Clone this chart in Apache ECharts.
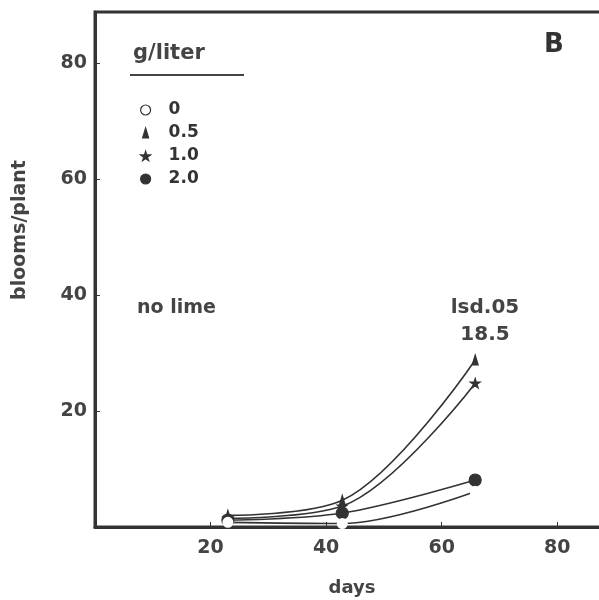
<!DOCTYPE html>
<html>
<head>
<meta charset="utf-8">
<script src="https://cdn.jsdelivr.net/npm/echarts@6/dist/echarts.min.js"></script>
<style>html,body{margin:0;padding:0;background:#fff;overflow:hidden}#c{width:599px;height:600px}</style>
</head>
<body>
<div id="c"></div>
<script>
var days = [23, 42.8, 65.8];
var seriesNames = ['0', '0.5', '1.0', '2.0'];
var bloomsLime0 = [0.8, 0.6, 6.1];
var bloomsLime05 = [2.0, 4.6, 28.8];
var bloomsLime10 = [1.5, 3.6, 24.8];
var bloomsLime20 = [1.2, 2.4, 8.1];
var xTicks = [20, 40, 60, 80];
var yTicks = [20, 40, 60, 80];

var ink = '#333';
var font = 'DejaVu Sans';
var starPath = 'path://M50,0 L61,35 L98,35 L68,57 L79,91 L50,70 L21,91 L32,57 L2,35 L39,35 Z';
var triPath = 'path://M3,0 L6,10 L0,10 Z';

function pts(ys) { return days.map(function (d, i) { return [d, ys[i]]; }); }

var symbols = [
  { symbol: 'emptyCircle', legend: 'circle', size: 9, color: '#fff', border: ink },
  { symbol: triPath, legend: triPath, size: 10, color: ink, border: ink },
  { symbol: starPath, legend: starPath, size: 10, color: ink, border: ink },
  { symbol: 'circle', legend: 'circle', size: 12, color: ink, border: ink }
];
var values = [bloomsLime0, bloomsLime05, bloomsLime10, bloomsLime20];

var series = seriesNames.map(function (n, i) {
  var s = symbols[i];
  return {
    name: n,
    type: 'line',
    smooth: 0.35,
    data: pts(values[i]),
    symbol: s.symbol,
    symbolSize: s.size,
    symbolKeepAspect: true,
    showAllSymbol: true,
    itemStyle: { color: s.color, borderColor: s.border, borderWidth: 1.2 },
    lineStyle: { color: ink, width: 1.6 },
    z: i === 0 ? 5 : 3
  };
});

var chart = echarts.init(document.getElementById('c'), null, { renderer: 'canvas' });
chart.setOption({
  backgroundColor: '#fff',
  animation: false,
  grid: { left: 95, top: 12, height: 515, width: 520, outerBoundsMode: 'none', containLabel: false, show: true, borderColor: ink, borderWidth: 3, backgroundColor: 'transparent' },
  xAxis: {
    type: 'value', min: 0, max: 90, interval: 20,
    axisLine: { show: true, lineStyle: { color: ink, width: 3 } },
    axisTick: { show: true, inside: true, length: 5, lineStyle: { color: ink, width: 1 } },
    splitLine: { show: false },
    axisLabel: {
      margin: 12, fontFamily: font, fontWeight: 'bold', fontSize: 19, color: '#444',
      showMaxLabel: false,
      formatter: function (v) { return xTicks.indexOf(v) >= 0 ? String(v) : ''; }
    }
  },
  yAxis: {
    type: 'value', min: 0, max: 88.8, interval: 20,
    axisLine: { show: true, lineStyle: { color: ink, width: 3 } },
    axisTick: { show: true, inside: true, length: 5, lineStyle: { color: ink, width: 1 } },
    splitLine: { show: false },
    axisLabel: {
      margin: 8, fontFamily: font, fontWeight: 'bold', fontSize: 19, color: '#444',
      showMaxLabel: false,
      formatter: function (v) { return yTicks.indexOf(v) >= 0 ? String(v) : ''; }
    }
  },
  legend: {
    orient: 'vertical', left: 135, top: 95, itemGap: 3,
    itemWidth: 10, itemHeight: 10, symbolKeepAspect: true,
    textStyle: { fontFamily: font, fontWeight: 'bold', fontSize: 17, lineHeight: 20, color: '#333', padding: [0, 0, 0, 13] },
    data: seriesNames.map(function (n, i) {
      var s = symbols[i];
      return { name: n, icon: s.legend, itemStyle: { color: s.color, borderColor: s.border, borderWidth: 1.2 } };
    })
  },
  graphic: [
    { type: 'text', left: 133, top: 43, style: { text: 'g/liter', font: 'bold 21px "DejaVu Sans"', fill: '#444' } },
    { type: 'line', shape: { x1: 130, y1: 75, x2: 244, y2: 75 }, style: { stroke: '#444', lineWidth: 2 } },
    { type: 'text', left: 544, top: 32, style: { text: 'B', font: 'bold 26px "DejaVu Sans"', fill: '#333' } },
    { type: 'text', left: 137, top: 299, style: { text: 'no lime', font: 'bold 19px "DejaVu Sans"', fill: '#444' } },
    { type: 'text', x: 485, y: 308, style: { text: 'lsd.05', font: 'bold 20px "DejaVu Sans"', fill: '#444', align: 'center', verticalAlign: 'middle' } },
    { type: 'text', x: 485, y: 335, style: { text: '18.5', font: 'bold 20px "DejaVu Sans"', fill: '#444', align: 'center', verticalAlign: 'middle' } },
    { type: 'text', x: 352, y: 588, style: { text: 'days', font: 'bold 18px "DejaVu Sans"', fill: '#444', align: 'center', verticalAlign: 'middle' } },
    { type: 'text', x: 20, y: 230, rotation: Math.PI / 2, style: { text: 'blooms/plant', font: 'bold 19px "DejaVu Sans"', fill: '#444', align: 'center', verticalAlign: 'middle' } }
  ],
  series: series
});
</script>
</body>
</html>
